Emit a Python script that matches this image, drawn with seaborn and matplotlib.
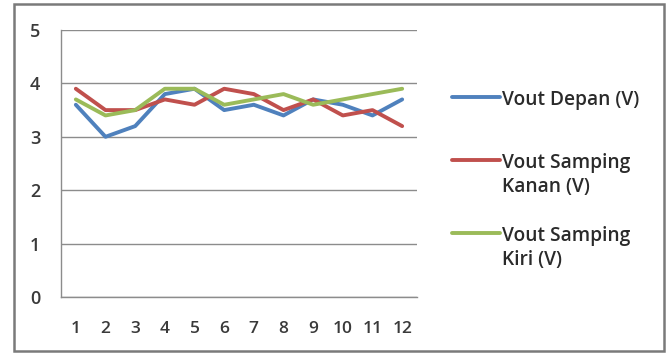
import matplotlib
matplotlib.use("Agg")
import matplotlib.pyplot as plt
from matplotlib.lines import Line2D
from matplotlib.patches import Rectangle
import numpy as np
import pandas as pd
import seaborn as sns

# Measurement index (1..12)
samples = [1, 2, 3, 4, 5, 6, 7, 8, 9, 10, 11, 12]

# Output voltage of each sensor (V)
vout_depan = [3.6, 3.0, 3.2, 3.8, 3.9, 3.5, 3.6, 3.4, 3.7, 3.6, 3.4, 3.7]
vout_kanan = [3.9, 3.5, 3.5, 3.7, 3.6, 3.9, 3.8, 3.5, 3.7, 3.4, 3.5, 3.2]
vout_kiri = [3.7, 3.4, 3.5, 3.9, 3.9, 3.6, 3.7, 3.8, 3.6, 3.7, 3.8, 3.9]

series_names = ["Vout Depan (V)", "Vout Samping Kanan (V)", "Vout Samping Kiri (V)"]
legend_labels = ["Vout Depan (V)", "Vout Samping\nKanan (V)", "Vout Samping\nKiri (V)"]
colors = ["#4F81BD", "#C0504D", "#9BBB59"]
y_ticks = [0, 1, 2, 3, 4, 5]

df = pd.DataFrame({
    "pos": list(range(len(samples))) * 3,
    "value": vout_depan + vout_kanan + vout_kiri,
    "series": sum([[n] * len(samples) for n in series_names], []),
})

sns.set_theme(style="white")
plt.rcParams["font.family"] = ["Open Sans", "DejaVu Sans"]

W, H = 670, 353
fig = plt.figure(figsize=(W / 100, H / 100), dpi=100)
fig.patch.set_facecolor("white")

def fx(px):
    return px / W

def fy(py):
    return 1 - py / H

ax = fig.add_axes([fx(61), fy(297), fx(417) - fx(61), fy(30) - fy(297)])

sns.lineplot(data=df, x="pos", y="value", hue="series", hue_order=series_names,
             palette=colors, linewidth=2.8, legend=False, ax=ax, zorder=3)

ax.set_xlim(-0.5, len(samples) - 0.5)
ax.set_ylim(0, 5)
ax.set_xlabel("")
ax.set_ylabel("")

# horizontal gridlines
ax.set_yticks(y_ticks)
ax.set_yticklabels([str(t) for t in y_ticks], fontsize=13, color="#3a3a3a",
                   fontweight="semibold")
ax.yaxis.grid(True, color="#8c8c8c", linewidth=1.0)
ax.xaxis.grid(False)

# category axis: labels at centers, tick marks at boundaries
ax.set_xticks(range(len(samples)))
ax.set_xticklabels([str(s) for s in samples], fontsize=12.5, color="#3a3a3a",
                   fontweight="semibold")
ax.set_xticks(np.arange(-0.5, len(samples), 1.0), minor=True)
ax.tick_params(axis="x", which="major", length=0, pad=17)
ax.tick_params(axis="x", which="minor", length=4, color="#8c8c8c", width=1, direction="out")
ax.tick_params(axis="y", which="major", length=5, color="#8c8c8c", width=1, direction="out", pad=10)

for side in ["top", "right"]:
    ax.spines[side].set_visible(False)
for side in ["left", "bottom"]:
    ax.spines[side].set_color("#8c8c8c")
    ax.spines[side].set_linewidth(1.0)
ax.set_axisbelow(True)

# legend drawn beside the plot
legend_rows = [(97, legend_labels[0]), (160, legend_labels[1]), (233, legend_labels[2])]
for (py, label), c in zip(legend_rows, colors):
    fig.add_artist(Line2D([fx(452), fx(500)], [fy(py), fy(py)], color=c, linewidth=2.8,
                          transform=fig.transFigure))
    fig.text(fx(502), fy(py - 7), label, fontsize=13.8, color="#2a2a2a", va="top",
             ha="left", linespacing=1.28, fontweight="semibold",
             transform=fig.transFigure)

# chart frame
fig.add_artist(Rectangle((fx(13.5), fy(350.5)), fx(650), fy(4.5) - fy(350.5),
                         transform=fig.transFigure, fill=False,
                         edgecolor="#7a7a7a", linewidth=1.8))

fig.savefig("out.png", dpi=100, facecolor="white")
